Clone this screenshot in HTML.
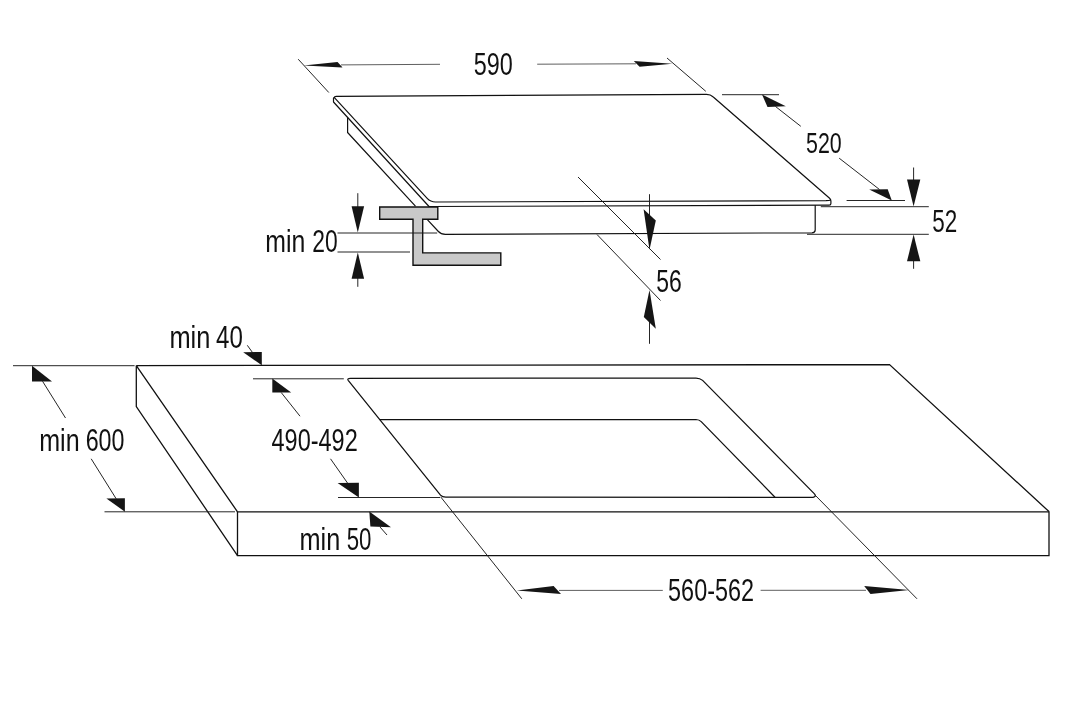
<!DOCTYPE html>
<html lang="en">
<head>
<meta charset="utf-8">
<title>Hob installation dimensions</title>
<style>
html,body{margin:0;padding:0;background:#fff;}
body{width:1089px;height:701px;overflow:hidden;}
svg{display:block;}
</style>
</head>
<body>
<svg width="1089" height="701" viewBox="0 0 1089 701">
<rect width="1089" height="701" fill="#fff"/>
<g stroke="#111" stroke-width="1.2" fill="none" stroke-linejoin="round" stroke-linecap="round">
<path d="M334.4,97.6 Q334.2,96.6 336.3,96.4 L706.5,94.4 Q710.5,94.4 713.3,97 L829.6,198.3 Q830.9,199.5 830.9,201 L830.9,203.6 Q830.9,205.2 829.2,205.2 L429,206.5 L333.5,102 L333.5,98.6 Q333.5,97.2 334.4,97.6 L427.2,198.4 Q430.5,202 435.5,202 L826,200.7 Q829.5,200.6 830.6,199.9"/>
<path d="M347.6,117.9 V132.5 L415.2,205.9"/>
<path d="M427.8,220.2 L438.4,231.5 Q441,234.3 445.3,234.3 L812,232.8 Q815.2,232.7 815.2,230 L815.2,205.6"/>
</g>
<path d="M379.7,207 H437.8 V219.3 H422.7 V252.9 H500.8 V265.2 H413 V219.3 H379.7 Z" fill="#c9c9c9" stroke="#111" stroke-width="1.4" stroke-linejoin="miter"/>
<g stroke="#1a1a1a" stroke-width="0.95" fill="none" stroke-linecap="butt">
<path d="M298.2,59.2 L328.8,92.5 M667,58 L705.8,91.3"/>
<path stroke-width="0.75" stroke="#2a2a2a" d="M341,64.9 L440,64.3 M537.2,64.2 L636,63.8"/>
<path d="M722,94.7 H779 M846.6,200.5 H905 M775.5,106.5 L800.8,126.3 M839.2,158.2 L879.5,189.5"/>
<path d="M820.8,206.7 H928.8 M807,234.3 H928.8 M913.6,167.5 V182 M913.6,259 V268.8"/>
<path d="M578,177 L660.5,259.5 M597,234.5 L660.5,300.5 M649.5,194.2 V230 M649.5,305 V343.8"/>
<path d="M337.5,233 H437.2 M337.5,252 H410 M357.8,193.2 V208 M357.8,276 V286.8"/>
</g>
<g stroke="#111" stroke-width="1.3" fill="none" stroke-linejoin="miter" stroke-linecap="butt">
<path d="M136.3,365.6 L889.5,364.6 L1049,511.6 M136.3,365.6 V406.6 L237.5,555.6 M136.3,365.6 L237.5,511.8"/>
<path d="M237.5,511.8 H1049 V555.6 H237.5 Z"/>
<path stroke-width="1.25" stroke-linejoin="round" d="M348.2,380.3 Q346.8,378.4 350.5,378.3 L696,378 Q700,378 702.6,380.4 L814.2,493.6 Q817,496.6 813,497.3 L445.8,497.2 Q442.2,497.2 440.5,495.2 Z"/>
<path stroke-width="1.25" stroke-linejoin="round" d="M379.8,419.6 L696,419.5 Q699.3,419.6 701.2,421.6 L775,497.2"/>
</g>
<g stroke="#1a1a1a" stroke-width="0.95" fill="none" stroke-linecap="butt">
<path d="M13,365.7 H134.6 M104.5,511.8 H235 M42.5,381.2 L65.5,418 M91.2,458.8 L116.2,498.8"/>
<path d="M247.3,345.3 L252.5,352.5"/>
<path d="M253,378.8 H343.8 M338,497.5 H440 M281.2,392.5 L300,416.2 M330.5,458.8 L347.5,483"/>
<path d="M380,527 L387,535"/>
<path d="M440.6,496.8 L521.8,598.8 M815,495 L917,598.8"/>
<path stroke-width="0.75" stroke="#2a2a2a" d="M559,590.4 H662.8 M760.6,590.3 H866"/>
</g>
<g fill="#151515" stroke="none">
<polygon points="303.6,65.5 337.5,61.9 342.6,67.4"/>
<polygon points="672.4,63.7 633.8,61.1 639.6,66.7"/>
<polygon points="762,94.6 785.8,106.3 767.5,107"/>
<polygon points="891.8,200.5 869.2,189.5 887.7,189.2"/>
<polygon points="913.6,206.6 907,179.5 920.3,179.5"/>
<polygon points="913.6,234.6 907,261.3 920.3,261.3"/>
<polygon points="649.5,249.8 643.6,209.3 655.8,220.6"/>
<polygon points="649.5,290 643.8,317 655.8,328.8"/>
<polygon points="357.8,232.6 351.6,206.3 364.1,206.3"/>
<polygon points="357.8,252.4 351.6,278.8 364.1,278.8"/>
<polygon points="32,365.8 32,381.5 52,381.5"/>
<polygon points="124.9,511.7 124.9,498.2 106.4,498.4"/>
<polygon points="261.8,365.3 261.8,352 243.2,352.2"/>
<polygon points="272.3,378.6 272.3,392.6 291.2,392.6"/>
<polygon points="358.9,497.4 358.9,482.8 337.6,483"/>
<polygon points="369.3,511.6 370.4,526.6 391,527.2"/>
<polygon points="516.8,590.5 553.6,586.1 561,593.9"/>
<polygon points="909.3,590.1 864.2,586.1 870.5,594.1"/>
</g>
<g font-family="'Liberation Sans', sans-serif" fill="#111" style="will-change:transform">
<text y="75" font-size="32"><tspan x="473.71" textLength="39.05" lengthAdjust="spacingAndGlyphs">590</tspan></text>
<text y="153" font-size="29"><tspan x="805.99" textLength="35.69" lengthAdjust="spacingAndGlyphs">520</tspan></text>
<text y="232" font-size="31"><tspan x="932.20" textLength="24.98" lengthAdjust="spacingAndGlyphs">52</tspan></text>
<text y="292" font-size="31"><tspan x="656.33" textLength="25.53" lengthAdjust="spacingAndGlyphs">56</tspan></text>
<text y="252" font-size="31"><tspan x="265.35" textLength="40.01" lengthAdjust="spacingAndGlyphs">min</tspan> <tspan x="312.30" textLength="25.39" lengthAdjust="spacingAndGlyphs">20</tspan></text>
<text y="348" font-size="31"><tspan x="169.46" textLength="40.94" lengthAdjust="spacingAndGlyphs">min</tspan> <tspan x="216.00" textLength="26.79" lengthAdjust="spacingAndGlyphs">40</tspan></text>
<text y="451" font-size="31.5"><tspan x="39.19" textLength="40.39" lengthAdjust="spacingAndGlyphs">min</tspan> <tspan x="85.67" textLength="38.79" lengthAdjust="spacingAndGlyphs">600</tspan></text>
<text y="451" font-size="31"><tspan x="271.51" textLength="86.22" lengthAdjust="spacingAndGlyphs">490-492</tspan></text>
<text y="550" font-size="31"><tspan x="299.47" textLength="40.72" lengthAdjust="spacingAndGlyphs">min</tspan> <tspan x="346.66" textLength="24.76" lengthAdjust="spacingAndGlyphs">50</tspan></text>
<text y="601" font-size="31"><tspan x="668.11" textLength="85.86" lengthAdjust="spacingAndGlyphs">560-562</tspan></text>
</g>
</svg>
</body>
</html>
